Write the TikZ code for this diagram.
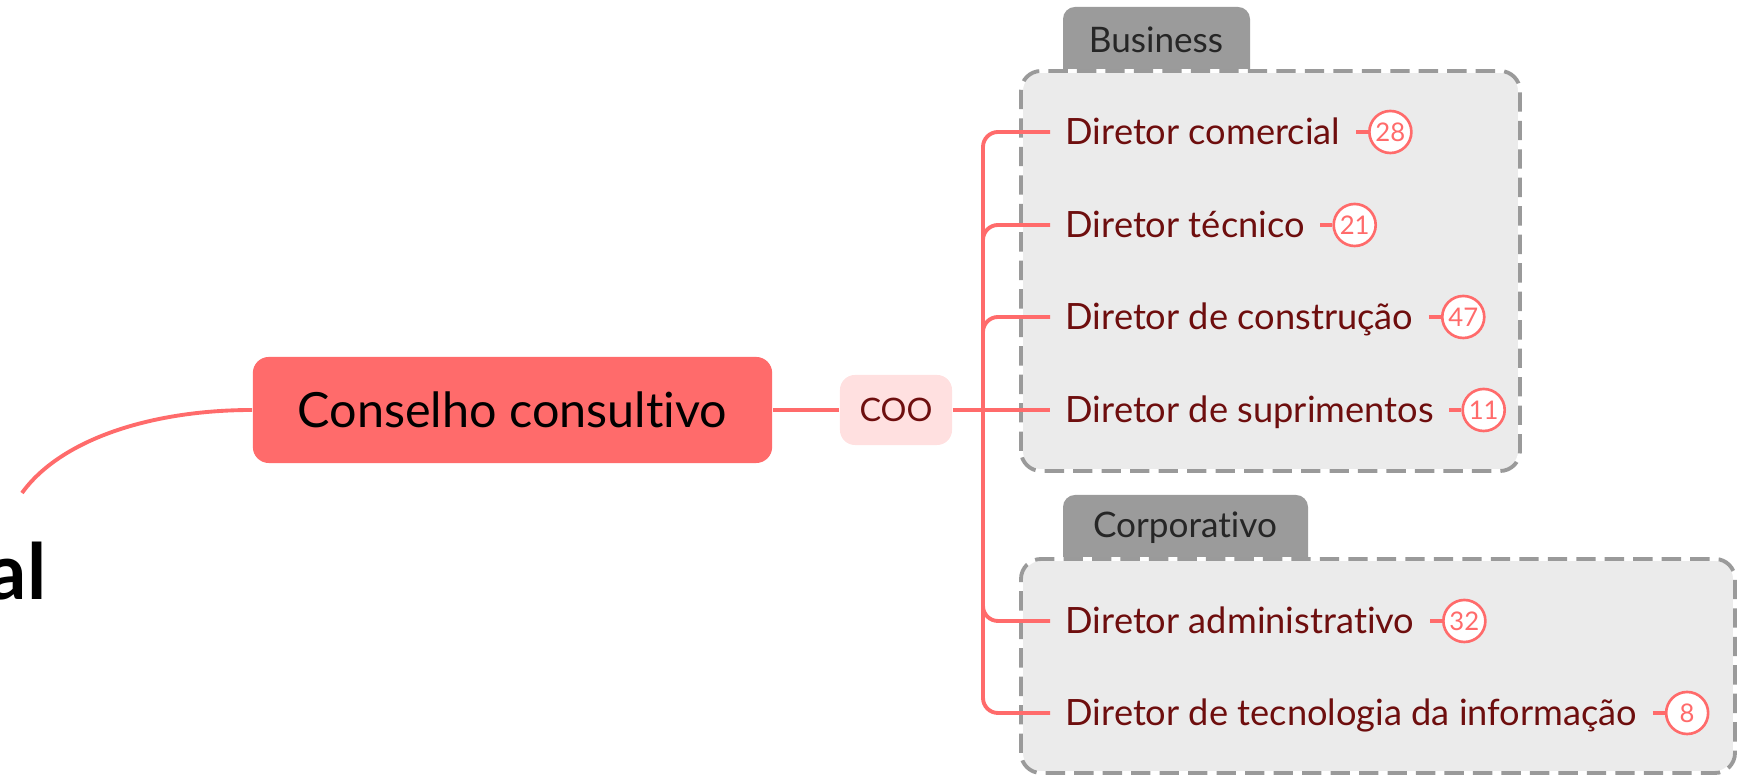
\documentclass[tikz,border=0pt]{standalone}
\usepackage{fontspec}
\setmainfont{Lato}[Ligatures=NoCommon]
\usetikzlibrary{positioning}
\definecolor{coral}{HTML}{FF6B6B}
\definecolor{pinkish}{HTML}{FFE0E0}
\definecolor{maroon}{HTML}{6E0E0E}
\definecolor{groupfill}{HTML}{EBEBEB}
\definecolor{groupline}{HTML}{9A9A9A}
\definecolor{tabfill}{HTML}{9B9B9B}

\begin{document}
\begin{tikzpicture}[x=0.01cm,y=0.01cm,
	link/.style={draw=coral, line width=1.1pt},
	director/.style={anchor=west, text=maroon, inner xsep=0.15cm, inner ysep=0pt,
		text height=7.3pt, text depth=0pt, font=\fontsize{10.3}{12}\selectfont},
	badge/.style={circle, draw=coral, line width=0.75pt, fill=white, text=coral,
		minimum size=0.42cm, inner sep=0pt, font=\fontsize{7.3}{8}\selectfont},
	groupbox/.style={fill=groupfill, rounded corners=0.2cm},
	tab/.style={fill=tabfill, rounded corners=0.12cm},
	tablabel/.style={text=black!85, font=\fontsize{10}{12}\selectfont}]

	\useasboundingbox (0,0) rectangle (1747,776);

	% group boxes
	\fill[tab] (1063,690) rectangle (1250,769);
	\node[tablabel] (business) at (1156,736) {Business};
	\filldraw[groupbox, draw=white, line width=1.1pt] (1021,305) rectangle (1520,705);
	\draw[groupline, line width=1.1pt, dash pattern=on 5.5pt off 2.6pt, rounded corners=0.2cm] (1021,305) rectangle (1520,705);

	\fill[tab] (1063,205) rectangle (1308,281);
	\node[tablabel] (corporativo) at (1185,248) {Corporativo};
	\filldraw[groupbox, draw=white, line width=1.1pt] (1021,3) rectangle (1735,217);
	\draw[groupline, line width=1.1pt, dash pattern=on 5.5pt off 2.6pt, rounded corners=0.2cm] (1021,3) rectangle (1735,217);

	% central topics
	\node[anchor=base east, inner sep=0pt, font=\fontsize{22}{26}\selectfont\bfseries] (root) at (47,176) {al};
	\coordinate (rootend) at (22,283);
	\node[fill=coral, rounded corners=0.16cm, minimum width=5.19cm, minimum height=1.06cm,
		font=\fontsize{13.8}{16}\selectfont] (consel) at (512.5,366) {Conselho consultivo};
	\node[fill=pinkish, rounded corners=0.15cm, minimum width=1.12cm, minimum height=0.7cm,
		text=maroon, font=\fontsize{9.2}{11}\selectfont] (coo) at (896,366) {COO};
	\coordinate (fork) at (983,366);

	\node[director] (dcom) at (1050,644) {Diretor comercial};
	\node[director] (dtec) at (1050,551) {Diretor técnico};
	\node[director] (dcon) at (1050,459) {Diretor de construção};
	\node[director] (dsup) at (1050,366) {Diretor de suprimentos};
	\node[director] (dadm) at (1050,155) {Diretor administrativo};
	\node[director] (dti) at (1050,63) {Diretor de tecnologia da informação};

	\node[badge, right=0.12cm of dcom] (ncom) {28};
	\node[badge, right=0.12cm of dtec] (ntec) {21};
	\node[badge, right=0.12cm of dcon] (ncon) {47};
	\node[badge, right=0.12cm of dsup] (nsup) {11};
	\node[badge, right=0.12cm of dadm] (nadm) {32};
	\node[badge, right=0.12cm of dti] (nti) {8};

	% connectors
	\draw[link] (consel.west) .. controls (150,366) and (60,336) .. (rootend);
	\draw[link] (consel) -- (coo);
	\draw[link] (coo) -- (dsup);
	\draw[link, rounded corners=0.15cm] (fork) |- (dcom.west);
	\draw[link, rounded corners=0.15cm] (fork) |- (dtec.west);
	\draw[link, rounded corners=0.15cm] (fork) |- (dcon.west);
	\draw[link, rounded corners=0.15cm] (fork) |- (dadm.west);
	\draw[link, rounded corners=0.15cm] (fork) |- (dti.west);

	\draw[link] (dcom) -- (ncom);
	\draw[link] (dtec) -- (ntec);
	\draw[link] (dcon) -- (ncon);
	\draw[link] (dsup) -- (nsup);
	\draw[link] (dadm) -- (nadm);
	\draw[link] (dti) -- (nti);

\end{tikzpicture}
\end{document}
